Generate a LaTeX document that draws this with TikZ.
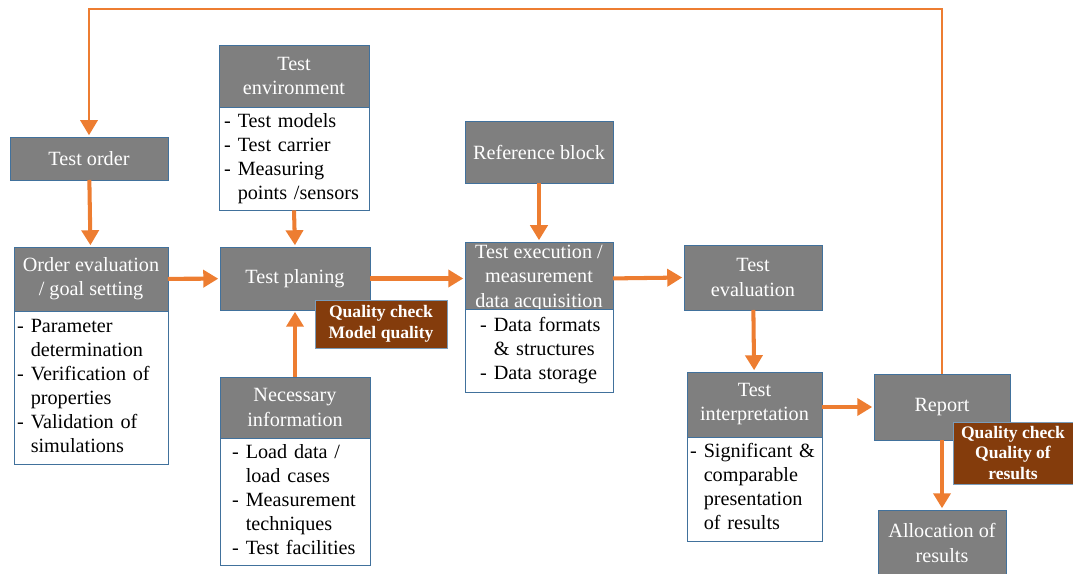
\documentclass[tikz,border=0pt]{standalone}
\usepackage{fontspec}
\setmainfont{Liberation Serif}
\usepackage{tikz}
\usetikzlibrary{arrows.meta,positioning}
\definecolor{boxgrey}{HTML}{7F7F7F}
\definecolor{boxline}{HTML}{41719C}
\definecolor{flowor}{HTML}{ED7D31}
\definecolor{qcbrown}{HTML}{843C0C}
\newcommand{\dashlist}[1]{\begin{tabular}{@{}l@{\hspace{4pt}}l@{}}#1\end{tabular}}

\begin{document}
\begin{tikzpicture}[x=0.02cm,y=-0.02cm,
    head/.style={draw=boxline,fill=boxgrey,text=white,align=center,outer sep=0pt,
                 font=\fontsize{11.5}{13.7}\selectfont,inner sep=2pt},
    list/.style={draw=boxline,fill=white,align=left,outer sep=0pt,
                 font=\fontsize{11.5}{13.7}\selectfont,inner ysep=2pt},
    qcheck/.style={draw=boxline!70,fill=qcbrown,text=white,align=center,outer sep=0pt,
                   font=\fontsize{10}{11.9}\selectfont\bfseries,inner sep=1pt},
    flow/.style={draw=flowor,line width=2.3pt,shorten >=1pt,
                 -{Triangle[length=0.3cm,width=0.34cm]}},
    node distance=0pt]
  \useasboundingbox (0,0) rectangle (1073,574);
  \node[head,minimum width=3.16cm,minimum height=0.86cm] (order) at (89,158.5) {Test order};
  \node[head,minimum width=3.08cm,minimum height=1.28cm] (evalhead) at (91,279) {Order evaluation\\/ goal setting};
  \node[list,minimum height=3.06cm,text width=2.96cm,inner xsep=0.06cm,below=of evalhead] (evallist)
       {\dashlist{-&Parameter\\&determination\\-&Verification of\\&properties\\-&Validation of\\&simulations}};
  \node[head,minimum width=3cm,minimum height=1.24cm] (envhead) at (294,76) {Test\\environment};
  \node[list,minimum height=2.02cm,text width=2.8cm,inner xsep=0.1cm,below=of envhead] (envlist)
       {\dashlist{-&Test models\\-&Test carrier\\-&Measuring\\&points /sensors}};
  \node[head,minimum width=3cm,minimum height=1.26cm] (plan) at (295,278.5) {Test planing};
  \node[qcheck,minimum width=2.64cm,minimum height=0.96cm] (qmodel) at (381,324) {Quality check\\Model quality};
  \node[head,minimum width=3cm,minimum height=1.22cm] (infohead) at (295,407.5) {Necessary\\information};
  \node[list,minimum height=2.48cm,text width=2.52cm,inner xsep=0.24cm,below=of infohead] (infolist)
       {\dashlist{-&Load data /\\&load cases\\-&Measurement\\&techniques\\-&Test facilities}};
  \node[head,minimum width=2.96cm,minimum height=1.24cm] (refblock) at (539,152) {Reference block};
  \node[head,minimum width=2.96cm,minimum height=1.34cm,anchor=north] (exechead) at (539,242)
       {Test execution /\\measurement\\data acquisition};
  \node[list,minimum height=1.66cm,text width=2.36cm,inner xsep=0.3cm,anchor=north] (execlist) at (539,309)
       {\dashlist{-&Data formats\\&\& structures\\-&Data storage}};
  \node[head,minimum width=2.76cm,minimum height=1.3cm] (evaluation) at (753,277.5) {Test\\evaluation};
  \node[head,minimum width=2.7cm,minimum height=1.3cm] (interphead) at (754.5,404.5) {Test\\interpretation};
  \node[list,minimum height=2.08cm,text width=2.58cm,inner xsep=0.06cm,below=of interphead] (interplist)
       {\dashlist{-&Significant \&\\&comparable\\&presentation\\&of results}};
  \node[head,minimum width=2.72cm,minimum height=1.32cm] (report) at (942,407) {Report};
  \node[head,minimum width=2.56cm,minimum height=1.32cm] (alloc) at (942,543) {Allocation of\\results};
  \node[qcheck,minimum width=2.4cm,minimum height=1.24cm] (qresults) at (1013,453) {Quality check\\Quality of\\results};
  \coordinate (loop) at (515,9);
  \draw[flow] (order) -- (evalhead);
  \draw[flow] (evalhead) -- (plan);
  \draw[flow] (envlist.south) -- (plan.north);
  \draw[flow] (infohead) -- (plan);
  \draw[flow] (plan.east) -- (plan.east -| exechead.west);
  \draw[flow] (refblock) -- (exechead);
  \draw[flow] (exechead.east) -- (evaluation.west);
  \draw[flow] (evaluation) -- (interphead);
  \draw[flow] (interphead.east |- report.west) -- (report.west);
  \draw[flow] (report) -- (alloc);
  \draw[flow,line width=1.7pt] (report.north) |- (loop) -| (order.north);
\end{tikzpicture}
\end{document}
